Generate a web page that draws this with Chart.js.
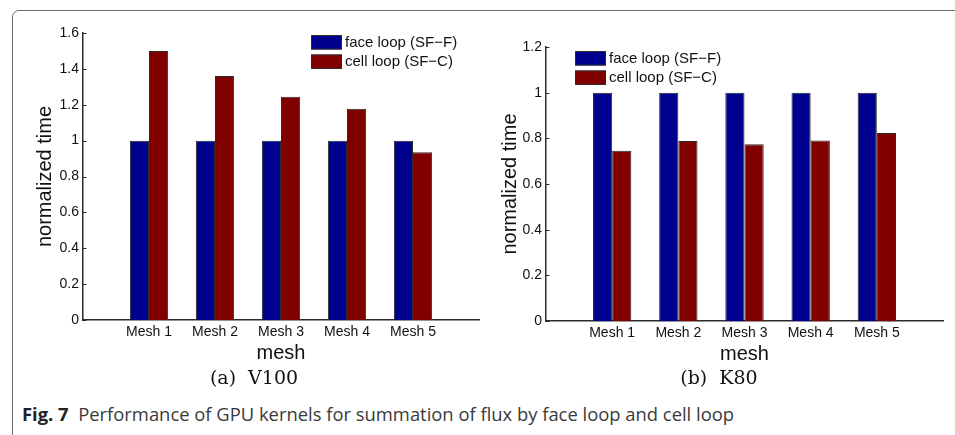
<!DOCTYPE html>
<html>
<head>
<meta charset="utf-8">
<script src="https://cdn.jsdelivr.net/npm/chart.js@4.4.1/dist/chart.umd.min.js"></script>
<style>
  html, body { margin: 0; padding: 0; background: #fff; }
  body { width: 955px; height: 435px; position: relative; overflow: hidden; }
  .frame { position: absolute; left: 12px; top: 10px; width: 980px; height: 460px;
           border: 1.5px solid #6a6a6a; border-radius: 7px; box-sizing: border-box; }
  .panel { position: absolute; top: 0; width: 470px; height: 372px; }
  .sub { position: absolute; top: 366px; font-family: "DejaVu Serif", "Liberation Serif", serif;
         font-size: 19px; color: #111; transform: translateX(-50%); white-space: nowrap; }
  .fig { position: absolute; left: 22px; top: 401px; font-family: "Open Sans", "Noto Sans", sans-serif;
         font-size: 18.4px; color: #3a3a3a; white-space: nowrap; }
  .fig b { color: #222; font-weight: 700; }
</style>
</head>
<body>
<div class="frame"></div>
<div class="panel" style="left:20px"><canvas id="v100" width="470" height="372"></canvas></div>
<div class="panel" style="left:485px"><canvas id="k80" width="470" height="372"></canvas></div>
<div class="sub" style="left:254px">(a)&nbsp; V100</div>
<div class="sub" style="left:719px">(b)&nbsp; K80</div>
<div class="fig"><b>Fig. 7</b>&nbsp; Performance of GPU kernels for summation of flux by face loop and cell loop</div>

<script>
// Meshes on the x axis and the series names
const meshes = ['Mesh 1', 'Mesh 2', 'Mesh 3', 'Mesh 4', 'Mesh 5'];
const seriesNames = ['face loop (SF\u2212F)', 'cell loop (SF\u2212C)'];

// Normalized run time on the V100
const v100Face = [1, 1, 1, 1, 1];
const v100Cell = [1.50, 1.36, 1.244, 1.178, 0.935];

// Normalized run time on the K80
const k80Face = [1, 1, 1, 1, 1];
const k80Cell = [0.746, 0.788, 0.774, 0.791, 0.823];

// Y tick ranges
const v100Max = 1.6;
const k80Max = 1.2;
const yStep = 0.2;

const faceColor = '#00008f';
const cellColor = '#800000';
const axisColor = '#2b2b2b';
const sans = '"Liberation Sans", Arial, Helvetica, sans-serif';

// Pad the category list with an empty slot on each side (axis runs 0..6)
const xLabels = ['', ...meshes, ''];
const pad = arr => [null, ...arr, null];

// Legend drawn inside the plot area, without a box
const innerLegend = {
  id: 'innerLegend',
  afterDraw(chart, args, opts) {
    const { ctx, chartArea } = chart;
    ctx.save();
    ctx.font = '15px ' + sans;
    ctx.textBaseline = 'middle';
    chart.data.datasets.forEach((ds, i) => {
      const x = chartArea.left + opts.x;
      const y = chartArea.top + opts.y + i * 19.5;
      ctx.fillStyle = ds.backgroundColor;
      ctx.fillRect(x, y, 31, 14.5);
      ctx.strokeStyle = axisColor;
      ctx.lineWidth = 1;
      ctx.strokeRect(x + 0.5, y + 0.5, 30, 13.5);
      ctx.fillStyle = '#111';
      ctx.fillText(ds.label, x + 34, y + 7.5);
    });
    ctx.restore();
  }
};

// Short tick marks pointing into the plot area
const innerTicks = {
  id: 'innerTicks',
  afterDatasetsDraw(chart) {
    const { ctx } = chart;
    const y = chart.scales.y;
    ctx.save();
    ctx.strokeStyle = axisColor;
    ctx.lineWidth = 1;
    y.ticks.forEach(t => {
      const py = Math.round(y.getPixelForValue(t.value)) + 0.5;
      ctx.beginPath();
      ctx.moveTo(y.right, py);
      ctx.lineTo(y.right + 3.5, py);
      ctx.stroke();
    });
    ctx.restore();
  }
};

function makeChart(id, face, cell, yMax, geom) {
  return new Chart(document.getElementById(id), {
    type: 'bar',
    data: {
      labels: xLabels,
      datasets: [
        { label: seriesNames[0], data: pad(face), backgroundColor: faceColor,
          borderColor: axisColor, borderWidth: 1 },
        { label: seriesNames[1], data: pad(cell), backgroundColor: cellColor,
          borderColor: axisColor, borderWidth: 1 }
      ]
    },
    options: {
      responsive: false,
      animation: false,
      devicePixelRatio: 1,
      layout: { padding: geom.padding },
      datasets: { bar: { categoryPercentage: 0.58, barPercentage: 1.0 } },
      plugins: {
        legend: { display: false },
        tooltip: { enabled: false },
        innerLegend: geom.legend
      },
      scales: {
        x: {
          offset: false,
          grid: { display: false, drawTicks: false },
          border: { display: true, color: axisColor, width: 1.5 },
          ticks: { autoSkip: false, maxRotation: 0, padding: 4,
                   color: '#111', font: { family: sans, size: 14 } },
          title: { display: true, text: 'mesh', color: '#111', padding: { top: -5, bottom: 0 },
                   font: { family: sans, size: 20 } },
          afterFit(s) { s.height = 45; }
        },
        y: {
          min: 0, max: yMax,
          grid: { display: false, drawTicks: false },
          border: { display: true, color: axisColor, width: 1.5 },
          ticks: { stepSize: yStep, padding: 4, color: '#111',
                   font: { family: sans, size: 14 },
                   callback: v => String(Number(v.toFixed(1))) },
          title: { display: true, text: 'normalized time', color: '#111',
                   padding: { top: 13, bottom: 0 },
                   font: { family: sans, size: 20 } },
          afterFit(s) { s.width = geom.yWidth; }
        }
      }
    },
    plugins: [innerLegend, innerTicks]
  });
}

makeChart('v100', v100Face, v100Cell, v100Max, {
  padding: { top: 33, left: 0, right: 11, bottom: 7 },
  yWidth: 63,
  legend: { x: 228, y: 2 }
});

makeChart('k80', k80Face, k80Cell, k80Max, {
  padding: { top: 47, left: 0, right: 12, bottom: 6 },
  yWidth: 61,
  legend: { x: 29, y: 4 }
});
</script>
</body>
</html>
